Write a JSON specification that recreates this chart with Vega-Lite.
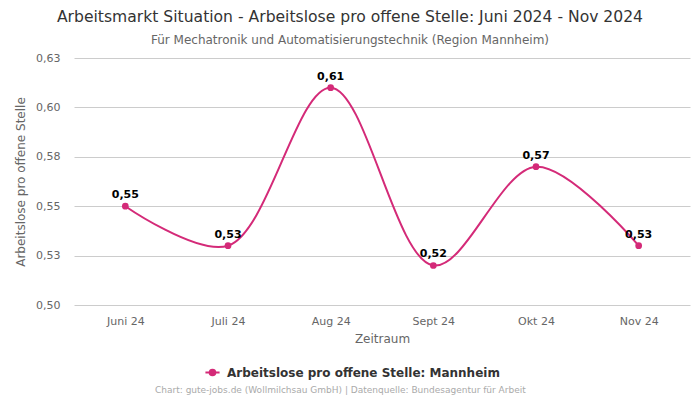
{
  "$schema": "https://vega.github.io/schema/vega-lite/v6.json",
  "width": 616,
  "height": 247,
  "autosize": {"type": "none"},
  "padding": {"left": 74, "top": 58, "right": 10, "bottom": 95},
  "title": {
    "text": "Arbeitsmarkt Situation - Arbeitslose pro offene Stelle: Juni 2024 - Nov 2024",
    "subtitle": "Für Mechatronik und Automatisierungstechnik (Region Mannheim)",
    "anchor": "middle",
    "dx": -32,
    "font": "DejaVu Sans",
    "fontSize": 15.6,
    "fontWeight": "normal",
    "color": "#333333",
    "subtitleFont": "DejaVu Sans",
    "subtitleFontSize": 12,
    "subtitleColor": "#666666",
    "subtitlePadding": 9,
    "offset": 6
  },
  "data": {
    "values": [
      {"monat": "Juni 24", "wert": 0.550, "serie": "Arbeitslose pro offene Stelle: Mannheim"},
      {"monat": "Juli 24", "wert": 0.530, "serie": "Arbeitslose pro offene Stelle: Mannheim"},
      {"monat": "Aug 24", "wert": 0.610, "serie": "Arbeitslose pro offene Stelle: Mannheim"},
      {"monat": "Sept 24", "wert": 0.520, "serie": "Arbeitslose pro offene Stelle: Mannheim"},
      {"monat": "Okt 24", "wert": 0.570, "serie": "Arbeitslose pro offene Stelle: Mannheim"},
      {"monat": "Nov 24", "wert": 0.530, "serie": "Arbeitslose pro offene Stelle: Mannheim"}
    ]
  },
  "encoding": {
    "x": {
      "field": "monat",
      "type": "ordinal",
      "sort": null,
      "scale": {"type": "point", "padding": 0.5},
      "axis": {
        "title": "Zeitraum",
        "labelAngle": 0,
        "ticks": false,
        "domain": false,
        "labelPadding": 10,
        "titlePadding": 7
      }
    },
    "y": {
      "field": "wert",
      "type": "quantitative",
      "scale": {"domain": [0.5, 0.625], "nice": false, "zero": false},
      "axis": {
        "title": "Arbeitslose pro offene Stelle",
        "values": [0.5, 0.525, 0.55, 0.575, 0.6, 0.625],
        "labelExpr": "replace(format(datum.value + 0.0001, '.2f'), '.', ',')",
        "ticks": false,
        "domain": false,
        "labelPadding": 14,
        "titlePadding": 8
      }
    }
  },
  "layer": [
    {
      "mark": {"type": "line", "interpolate": "catmull-rom", "strokeWidth": 2},
      "encoding": {
        "color": {
          "field": "serie",
          "type": "nominal",
          "scale": {"range": ["#d42a78"]},
          "legend": {
            "orient": "none",
            "legendX": 130,
            "legendY": 306,
            "title": null,
            "padding": 0,
            "labelFontSize": 12,
            "labelFontWeight": "bold",
            "labelColor": "#333333",
            "labelLimit": 0,
            "labelOffset": 6,
            "symbolType": "M-1,0L1,0M-0.4,0A0.4,0.4,0,1,1,0.4,0A0.4,0.4,0,1,1,-0.4,0Z",
            "symbolSize": 200,
            "symbolStrokeWidth": 2,
            "symbolFillColor": "#d42a78"
          }
        }
      }
    },
    {
      "mark": {"type": "point", "filled": true, "size": 45, "opacity": 1, "color": "#d42a78"},
      "encoding": {}
    },
    {
      "mark": {"type": "text", "dy": -11, "fontWeight": "bold", "fontSize": 11, "color": "#000000"},
      "encoding": {
        "text": {"field": "wert", "type": "quantitative", "format": ".2f"},
        "opacity": {
          "field": "serie",
          "type": "nominal",
          "scale": {"range": [1]},
          "legend": {
            "orient": "none",
            "legendX": 81,
            "legendY": 328,
            "padding": 0,
            "title": "Chart: gute-jobs.de (Wollmilchsau GmbH) | Datenquelle: Bundesagentur für Arbeit",
            "titleFontSize": 9,
            "titleFontWeight": "normal",
            "titleColor": "#aaaaaa",
            "titleLimit": 0,
            "titlePadding": 0,
            "symbolOpacity": 0,
            "symbolSize": 0,
            "labelExpr": "''",
            "labelFontSize": 1
          }
        }
      }
    }
  ],
  "config": {
    "locale": {"number": {"decimal": ",", "thousands": ".", "grouping": [3], "currency": ["", " €"]}},
    "font": "DejaVu Sans",
    "view": {"stroke": null},
    "axis": {
      "labelFont": "DejaVu Sans",
      "titleFont": "DejaVu Sans",
      "labelFontSize": 11,
      "titleFontSize": 12,
      "titleFontWeight": "normal",
      "labelColor": "#666666",
      "titleColor": "#666666",
      "gridColor": "#cccccc"
    },
    "legend": {"labelFont": "DejaVu Sans", "titleFont": "DejaVu Sans"}
  }
}
